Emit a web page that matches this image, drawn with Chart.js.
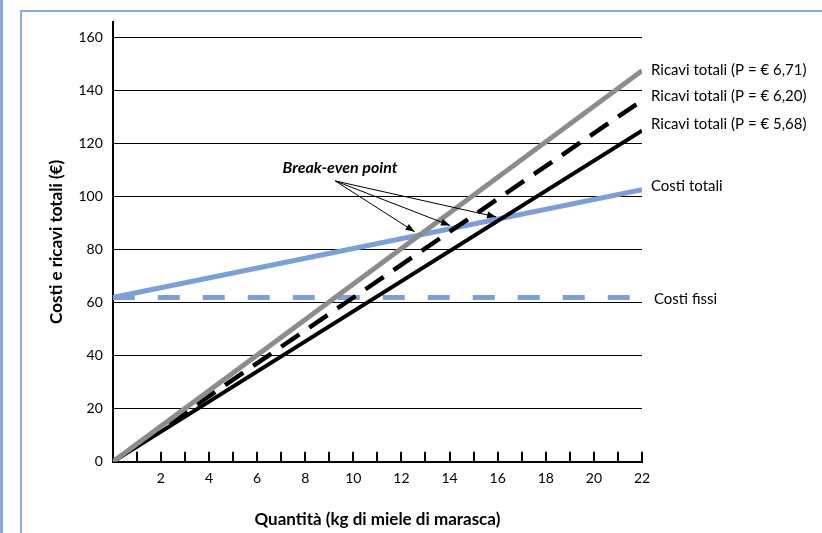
<!DOCTYPE html>
<html>
<head>
<meta charset="utf-8">
<script src="https://cdn.jsdelivr.net/npm/chart.js@4.4.1/dist/chart.umd.min.js"></script>
<style>
  html, body { margin:0; padding:0; background:#fff; }
  #wrap { position:relative; width:822px; height:533px; overflow:hidden; }
  #lbar { position:absolute; left:0; top:0; width:3px; height:533px; background:#8eaadb; }
  #frameL { position:absolute; left:20px; top:10px; width:2px; height:523px; background:#8eaadb; }
  #frameT { position:absolute; left:20px; top:10px; width:802px; height:2px; background:#8eaadb; }
  canvas { position:absolute; left:0; top:0; }
</style>
</head>
<body>
<div id="wrap">
  <div id="lbar"></div><div id="frameL"></div><div id="frameT"></div>
  <canvas id="c" width="822" height="533"></canvas>
</div>
<script>
// ---- data ----
const quantities = [0, 22];                  // kg di miele di marasca
const ricavi671 = [0, 147.6];                // Ricavi totali (P = € 6,71)
const ricavi620 = [0, 136.4];                // Ricavi totali (P = € 6,20)
const ricavi568 = [0, 125.0];                // Ricavi totali (P = € 5,68)
const costiTotali = [62, 102.7];             // Costi totali
const costiFissi = [62, 62];                 // Costi fissi
const xTickLabels = [2, 4, 6, 8, 10, 12, 14, 16, 18, 20, 22];
const yTickLabels = [0, 20, 40, 60, 80, 100, 120, 140, 160];
const seriesNames = ['Ricavi totali (P = € 6,71)', 'Ricavi totali (P = € 6,20)', 'Ricavi totali (P = € 5,68)', 'Costi totali', 'Costi fissi'];
const annotationText = 'Break-even point';

const BLUE = '#7b9fd6';
const GRAY = '#8c8c8c';
const FONT = 'Lato, "Open Sans", sans-serif';

function pts(arr) { return quantities.map((q, i) => ({ x: q, y: arr[i] })); }

const labelOffsets = [-1, -4, -6, -4, 2];

const decorPlugin = {
  id: 'decor',
  afterDatasetsDraw(chart) {
    const ctx = chart.ctx;
    const xs = chart.scales.x, ys = chart.scales.y;
    const ca = chart.chartArea;
    ctx.save();
    // inward x tick marks
    ctx.strokeStyle = '#000';
    ctx.lineWidth = 2;
    for (let v = 1; v <= 22; v++) {
      const px = Math.round(xs.getPixelForValue(v));
      ctx.beginPath();
      ctx.moveTo(px, ca.bottom);
      ctx.lineTo(px, ca.bottom - 10);
      ctx.stroke();
    }
    // series end labels
    ctx.fillStyle = '#000';
    ctx.font = '15px ' + FONT;
    ctx.textAlign = 'left';
    ctx.textBaseline = 'middle';
    chart.data.datasets.forEach((ds, i) => {
      const last = ds.data[ds.data.length - 1];
      const py = ys.getPixelForValue(last.y) + labelOffsets[i];
      const px = xs.getPixelForValue(last.x) + (i === 4 ? 12 : 9);
      ctx.fillText(seriesNames[i], px, py);
    });
    // Break-even annotation
    ctx.font = 'italic bold 16px ' + FONT;
    ctx.textAlign = 'center';
    ctx.fillText(annotationText, xs.getPixelForValue(9.45), ys.getPixelForValue(110.8));
    const ox = xs.getPixelForValue(9.25), oy = ys.getPixelForValue(106);
    const cSlope = (costiTotali[1] - costiTotali[0]) / (quantities[1] - quantities[0]);
    [ricavi671, ricavi620, ricavi568].forEach(r => {
      const rSlope = (r[1] - r[0]) / (quantities[1] - quantities[0]);
      const bx = (costiTotali[0] - r[0]) / (rSlope - cSlope);
      const by = r[0] + rSlope * bx;
      let tx = xs.getPixelForValue(bx), ty = ys.getPixelForValue(by);
      const dx = tx - ox, dy = ty - oy, len = Math.hypot(dx, dy);
      const ux = dx / len, uy = dy / len;
      tx -= ux * 6; ty -= uy * 6;
      ctx.strokeStyle = '#000';
      ctx.lineWidth = 1;
      ctx.beginPath(); ctx.moveTo(ox, oy); ctx.lineTo(tx, ty); ctx.stroke();
      const ah = 9, aw = 3.5;
      ctx.beginPath();
      ctx.moveTo(tx, ty);
      ctx.lineTo(tx - ux * ah - uy * aw, ty - uy * ah + ux * aw);
      ctx.lineTo(tx - ux * ah + uy * aw, ty - uy * ah - ux * aw);
      ctx.closePath();
      ctx.fillStyle = '#000';
      ctx.fill();
    });
    ctx.restore();
  }
};

new Chart(document.getElementById('c'), {
  type: 'line',
  data: {
    datasets: [
      { label: seriesNames[0], data: pts(ricavi671), borderColor: GRAY, borderWidth: 5, pointRadius: 0, order: 1 },
      { label: seriesNames[1], data: pts(ricavi620), borderColor: '#000', borderWidth: 4.5, borderDash: [22, 12], pointRadius: 0, order: 3 },
      { label: seriesNames[2], data: pts(ricavi568), borderColor: '#000', borderWidth: 4, pointRadius: 0, order: 2 },
      { label: seriesNames[3], data: pts(costiTotali), borderColor: BLUE, borderWidth: 5, pointRadius: 0, order: 4 },
      { label: seriesNames[4], data: pts(costiFissi), borderColor: BLUE, borderWidth: 5, borderDash: [22, 23], pointRadius: 0, order: 5 }
    ]
  },
  options: {
    responsive: false,
    animation: false,
    layout: { padding: { left: 46, right: 180, top: 22, bottom: 0 } },
    plugins: { legend: { display: false }, tooltip: { enabled: false } },
    scales: {
      x: {
        type: 'linear', min: 0, max: 22,
        afterBuildTicks: s => { s.ticks = xTickLabels.map(v => ({ value: v })); },
        ticks: { color: '#000', font: { family: FONT, size: 14 }, padding: 8, maxRotation: 0, autoSkip: false },
        grid: { display: false, drawTicks: false },
        border: { display: true, color: '#000', width: 2 },
        title: { display: true, text: 'Quantità (kg di miele di marasca)', color: '#000', font: { family: FONT, size: 17, weight: 'bold' }, padding: { top: 15, bottom: 3 } }
      },
      y: {
        type: 'linear', min: 0, max: 166,
        afterBuildTicks: s => { s.ticks = yTickLabels.map(v => ({ value: v })); },
        ticks: { color: '#000', font: { family: FONT, size: 14 }, padding: 10 },
        grid: { color: '#000', lineWidth: 1, drawTicks: false },
        border: { display: true, color: '#000', width: 2 },
        title: { display: true, text: 'Costi e ricavi totali (€)', color: '#000', font: { family: FONT, size: 17, weight: 'bold' }, padding: { top: 0, bottom: 2 } }
      }
    }
  },
  plugins: [decorPlugin]
});
</script>
</body>
</html>
